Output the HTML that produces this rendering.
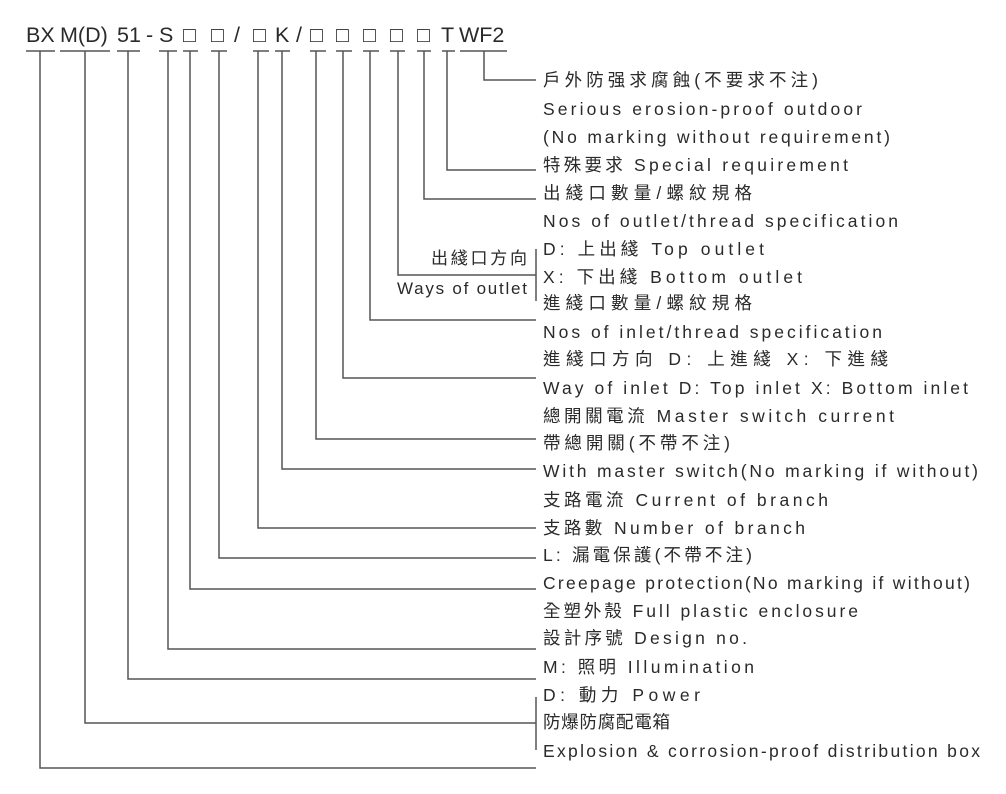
<!DOCTYPE html>
<html><head><meta charset="utf-8"><style>
html,body{margin:0;padding:0;background:#fff;}
svg{display:block;}
text{font-family:"Liberation Sans","Noto Sans CJK TC",sans-serif;fill:#2a2a2a;}
</style></head><body>
<svg width="1006" height="794" viewBox="0 0 1006 794" xmlns="http://www.w3.org/2000/svg">
<g font-size="21.5">
<text x="26" y="42">BX</text>
<text x="60" y="42">M(D)</text>
<text x="117" y="42">51</text>
<text x="146" y="42">-</text>
<text x="159" y="42">S</text>
<text x="183" y="42">□</text>
<text x="211" y="42">□</text>
<text x="234" y="42">/</text>
<text x="253" y="42">□</text>
<text x="275" y="42">K</text>
<text x="296" y="42">/</text>
<text x="310" y="42">□</text>
<text x="336" y="42">□</text>
<text x="363" y="42">□</text>
<text x="390" y="42">□</text>
<text x="417" y="42">□</text>
<text x="441" y="42">T</text>
<text x="459" y="42">WF2</text>
</g>
<g stroke="#555" stroke-width="1.5" fill="none">
<path d="M26 51H55M60 51H110M117 51H140M159 51H177M183 51H198M211 51H227M253 51H269M275 51H290M310 51H326M336 51H352M363 51H379M390 51H405M417 51H431M442 51H455M460 51H507"/>
<path d="M484 51V80H536"/>
<path d="M447 51V170H536"/>
<path d="M424 51V199H536"/>
<path d="M398 51V275H536M536 249V301"/>
<path d="M370 51V320H536"/>
<path d="M343 51V378H536"/>
<path d="M316 51V439H536"/>
<path d="M282 51V469H536"/>
<path d="M258 51V528H536"/>
<path d="M219 51V558H536"/>
<path d="M190 51V589H536"/>
<path d="M168 51V649H536"/>
<path d="M128 51V679H536"/>
<path d="M85 51V723H536M536 697V750"/>
<path d="M40 51V768H536"/>
</g>
<g font-size="17">
<text x="527" y="264" text-anchor="end" textLength="96" lengthAdjust="spacing">出綫口方向</text>
<text x="397" y="294" textLength="130" lengthAdjust="spacing">Ways of outlet</text>
</g>
<g font-size="17.5">
<text x="543" y="86" textLength="275" lengthAdjust="spacing">戶外防强求腐蝕(不要求不注)</text>
<text x="543" y="115" textLength="319" lengthAdjust="spacing">Serious erosion-proof outdoor</text>
<text x="543" y="143" textLength="347" lengthAdjust="spacing">(No marking without requirement)</text>
<text x="543" y="171" textLength="305" lengthAdjust="spacing">特殊要求  Special requirement</text>
<text x="543" y="199" textLength="209" lengthAdjust="spacing">出綫口數量/螺紋規格</text>
<text x="543" y="227" textLength="355" lengthAdjust="spacing">Nos of outlet/thread specification</text>
<text x="543" y="255" textLength="221" lengthAdjust="spacing">D: 上出綫  Top outlet</text>
<text x="543" y="283" textLength="259" lengthAdjust="spacing">X: 下出綫  Bottom outlet</text>
<text x="543" y="309" textLength="209" lengthAdjust="spacing">進綫口數量/螺紋規格</text>
<text x="543" y="338" textLength="339" lengthAdjust="spacing">Nos of inlet/thread specification</text>
<text x="543" y="365" textLength="345" lengthAdjust="spacing">進綫口方向  D: 上進綫   X: 下進綫</text>
<text x="543" y="394" textLength="425" lengthAdjust="spacing">Way of inlet  D: Top inlet   X: Bottom inlet</text>
<text x="543" y="422" textLength="351" lengthAdjust="spacing">總開關電流  Master switch current</text>
<text x="543" y="449" textLength="187" lengthAdjust="spacing">帶總開關(不帶不注)</text>
<text x="543" y="477" textLength="435" lengthAdjust="spacing">With master switch(No marking if without)</text>
<text x="543" y="506" textLength="285" lengthAdjust="spacing">支路電流  Current of branch</text>
<text x="543" y="534" textLength="262" lengthAdjust="spacing">支路數  Number of branch</text>
<text x="543" y="561" textLength="209" lengthAdjust="spacing">L: 漏電保護(不帶不注)</text>
<text x="543" y="589" textLength="427" lengthAdjust="spacing">Creepage protection(No marking if without)</text>
<text x="543" y="617" textLength="315" lengthAdjust="spacing">全塑外殼  Full plastic enclosure</text>
<text x="543" y="644" textLength="204" lengthAdjust="spacing">設計序號  Design no.</text>
<text x="543" y="673" textLength="211" lengthAdjust="spacing">M: 照明  Illumination</text>
<text x="543" y="701" textLength="157" lengthAdjust="spacing">D: 動力  Power</text>
<text x="543" y="728" textLength="127" lengthAdjust="spacing">防爆防腐配電箱</text>
<text x="543" y="757" textLength="437" lengthAdjust="spacing">Explosion &amp; corrosion-proof distribution box</text>
</g>
</svg>
</body></html>
